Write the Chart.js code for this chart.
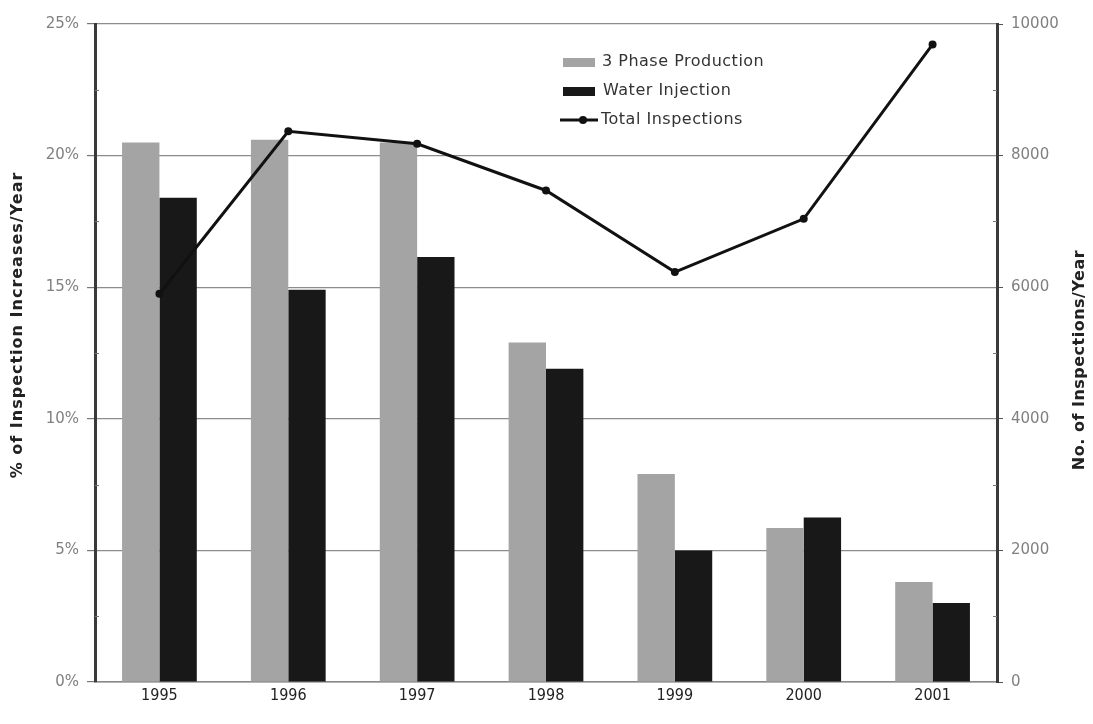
<!DOCTYPE html>
<html>
<head>
<meta charset="utf-8">
<script src="https://cdn.jsdelivr.net/npm/chart.js@4.4.1/dist/chart.umd.min.js"></script>
<style>
  html, body { margin: 0; padding: 0; background: #ffffff; }
  #wrap { width: 1093px; height: 724px; position: relative; }
</style>
</head>
<body>
<div id="wrap"><canvas id="c" width="1093" height="724"></canvas></div>
<script>
const categories = ['1995', '1996', '1997', '1998', '1999', '2000', '2001'];
const threePhase = [20.5, 20.6, 20.5, 12.9, 7.9, 5.85, 3.8];
const waterInjection = [18.4, 14.9, 16.15, 11.9, 5.0, 6.25, 3.0];
const totalInspections = [5900, 8370, 8180, 7470, 6230, 7040, 9690];
const leftTicks = [0, 5, 10, 15, 20, 25];
const leftMinorTicks = [2.5, 7.5, 12.5, 17.5, 22.5];
const rightTicks = [0, 2000, 4000, 6000, 8000, 10000];
const rightMinorTicks = [1000, 3000, 5000, 7000, 9000];
const leftTitle = '% of Inspection Increases/Year';
const rightTitle = 'No. of Inspections/Year';

const LIGHT = '#a4a4a4';
const DARK = '#181818';
const FONT = "'DejaVu Sans', Verdana, sans-serif";
const FONT_C = "'DejaVu Sans Condensed', 'DejaVu Sans', sans-serif";

const decorPlugin = {
  id: 'decor',
  afterDraw(chart) {
    const ctx = chart.ctx;
    const ds = chart.data.datasets;
    const ys = [62, 91, 120];
    ctx.save();
    // minor ticks (inside plot)
    const yl = chart.scales.y, yr = chart.scales.y2;
    ctx.strokeStyle = '#777';
    ctx.lineWidth = 1;
    leftMinorTicks.forEach(v => {
      const p = Math.round(yl.getPixelForValue(v)) + 0.5;
      ctx.beginPath(); ctx.moveTo(yl.right, p); ctx.lineTo(yl.right + 4, p); ctx.stroke();
    });
    rightMinorTicks.forEach(v => {
      const p = Math.round(yr.getPixelForValue(v)) + 0.5;
      ctx.beginPath(); ctx.moveTo(yr.left - 4, p); ctx.lineTo(yr.left, p); ctx.stroke();
    });
    // legend swatches
    ctx.fillStyle = ds[1].backgroundColor;
    ctx.fillRect(563, ys[0] - 4, 32, 9);
    ctx.fillStyle = ds[2].backgroundColor;
    ctx.fillRect(563, ys[1] - 4, 32, 9);
    ctx.strokeStyle = ds[0].borderColor;
    ctx.lineWidth = 3;
    ctx.beginPath();
    ctx.moveTo(560, ys[2]);
    ctx.lineTo(598, ys[2]);
    ctx.stroke();
    ctx.fillStyle = ds[0].borderColor;
    ctx.beginPath();
    ctx.arc(583, ys[2], 4, 0, Math.PI * 2);
    ctx.fill();
    // legend text
    ctx.font = '16px ' + FONT;
    ctx.textBaseline = 'middle';
    ctx.textAlign = 'left';
    ctx.fillStyle = '#333';
    try { ctx.letterSpacing = '0.5px'; } catch (e) {}
    ctx.fillText(ds[1].label, 602, ys[0]);
    ctx.fillText(ds[2].label, 603, ys[1]);
    ctx.fillText(ds[0].label, 601, ys[2]);
    // axis titles (both read bottom-to-top)
    ctx.font = 'bold 16px ' + FONT;
    ctx.fillStyle = '#222';
    ctx.textAlign = 'center';
    try { ctx.letterSpacing = '1px'; } catch (e) {}
    ctx.save();
    ctx.translate(18, 325);
    ctx.rotate(-Math.PI / 2);
    ctx.fillText(leftTitle, 0, 0);
    ctx.restore();
    try { ctx.letterSpacing = '0.5px'; } catch (e) {}
    ctx.save();
    ctx.translate(1080, 360);
    ctx.rotate(-Math.PI / 2);
    ctx.fillText(rightTitle, 0, 0);
    ctx.restore();
    ctx.restore();
  }
};

new Chart(document.getElementById('c'), {
  data: {
    labels: categories,
    datasets: [
      {
        type: 'line',
        label: 'Total Inspections',
        data: totalInspections,
        yAxisID: 'y2',
        borderColor: '#111',
        backgroundColor: '#111',
        borderWidth: 3,
        pointRadius: 4,
        pointBackgroundColor: '#111',
        pointBorderWidth: 0,
        tension: 0,
        order: 0
      },
      {
        type: 'bar',
        label: '3 Phase Production',
        data: threePhase,
        yAxisID: 'y',
        backgroundColor: LIGHT,
        borderWidth: 0,
        barPercentage: 1.0,
        categoryPercentage: 0.58,
        order: 1
      },
      {
        type: 'bar',
        label: 'Water Injection',
        data: waterInjection,
        yAxisID: 'y',
        backgroundColor: DARK,
        borderWidth: 0,
        barPercentage: 1.0,
        categoryPercentage: 0.58,
        order: 1
      }
    ]
  },
  options: {
    responsive: false,
    animation: false,
    layout: { padding: { top: 24, right: 0, bottom: 0, left: 0 } },
    plugins: { legend: { display: false }, tooltip: { enabled: false } },
    scales: {
      x: {
        grid: { display: false, drawTicks: false },
        border: { display: true, color: '#888', width: 1.5 },
        ticks: { color: '#222', font: { family: FONT_C, size: 16 }, padding: 4 },
        afterFit(s) { s.height = 42; }
      },
      y: {
        position: 'left',
        min: 0, max: 25,
        afterBuildTicks(s) { s.ticks = leftTicks.map(v => ({ value: v })); },
        ticks: { color: '#808080', font: { family: FONT, size: 15 }, padding: 8, callback: v => v + '%' },
        grid: { color: '#8c8c8c', lineWidth: 1.2, drawTicks: true, tickLength: 8, tickColor: '#777' },
        border: { display: true, color: '#3a3a3a', width: 3 },
        afterFit(s) { s.width = 95; }
      },
      y2: {
        position: 'right',
        min: 0, max: 10000,
        afterBuildTicks(s) { s.ticks = rightTicks.map(v => ({ value: v })); },
        ticks: { color: '#808080', font: { family: FONT, size: 15 }, padding: 8, callback: v => String(v) },
        grid: { drawOnChartArea: false, drawTicks: true, tickLength: 6, tickColor: '#555' },
        border: { display: true, color: '#3a3a3a', width: 3 },
        afterFit(s) { s.width = 96; }
      }
    }
  },
  plugins: [decorPlugin]
});
</script>
</body>
</html>
